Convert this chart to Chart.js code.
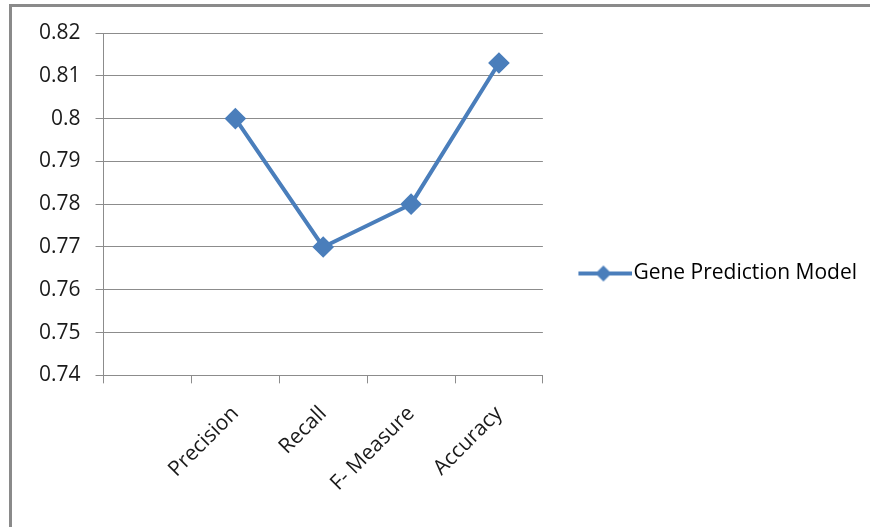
<!DOCTYPE html>
<html>
<head>
<meta charset="utf-8">
<script src="https://cdn.jsdelivr.net/npm/chart.js@4.4.0/dist/chart.umd.min.js"></script>
<style>
  body { margin: 0; background: #fff; }
  #wrap { position: relative; width: 870px; height: 527px; overflow: hidden; }
  #frame { position: absolute; left: 9px; top: 4px; width: 900px; height: 560px;
           border-left: 3px solid #8a8a8a; border-top: 3px solid #8a8a8a; }
  canvas { position: absolute; left: 0; top: 0; }
</style>
</head>
<body>
<div id="wrap">
  <div id="frame"></div>
  <canvas id="chart" width="870" height="527"></canvas>
</div>
<script>
// first slot on the axis is empty in the source chart
const categories = ['', 'Precision', 'Recall', 'F- Measure', 'Accuracy'];
const modelScores = [null, 0.80, 0.77, 0.78, 0.813];
const seriesName = 'Gene Prediction Model';
const yMin = 0.74, yMax = 0.82, yStep = 0.01;

const blue = '#4a7ebb';
const grey = '#8c8c8c';
const textColor = '#1a1a1a';
const font = { family: '"Open Sans", sans-serif', size: 21 };

// legend symbol: line with a diamond, like the office legend
function legendSymbol() {
  const c = document.createElement('canvas');
  c.width = 89; c.height = 20;
  const g = c.getContext('2d');
  g.strokeStyle = blue;
  g.lineWidth = 4;
  g.beginPath();
  g.moveTo(35, 10);
  g.lineTo(89, 10);
  g.stroke();
  g.fillStyle = blue;
  g.beginPath();
  g.moveTo(60, 2); g.lineTo(68, 10); g.lineTo(60, 18); g.lineTo(52, 10);
  g.closePath();
  g.fill();
  return c;
}
const symbol = legendSymbol();

new Chart(document.getElementById('chart'), {
  type: 'line',
  data: {
    labels: categories,
    datasets: [{
      label: seriesName,
      data: modelScores,
      borderColor: blue,
      backgroundColor: blue,
      borderWidth: 4,
      pointStyle: 'rectRot',
      pointRadius: 8,
      pointHoverRadius: 8,
      tension: 0
    }]
  },
  options: {
    responsive: false,
    animation: false,
    layout: { padding: { left: 24, top: 33, right: 3, bottom: 13 } },
    plugins: {
      tooltip: { enabled: false },
      legend: {
        position: 'right',
        maxWidth: 340,
        labels: {
          color: textColor,
          font: font,
          usePointStyle: true,
          pointStyleWidth: 70,
          padding: 10,
          generateLabels: (chart) => [{
            text: seriesName,
            pointStyle: symbol,
            fillStyle: blue,
            strokeStyle: blue,
            lineWidth: 0,
            datasetIndex: 0
          }]
        }
      }
    },
    scales: {
      x: {
        offset: true,
        grid: {
          offset: true,
          drawOnChartArea: false,
          drawTicks: true,
          tickLength: 8,
          color: grey
        },
        border: { color: grey, width: 1 },
        ticks: {
          color: textColor,
          font: font,
          autoSkip: false,
          minRotation: 45,
          maxRotation: 45,
          padding: 18
        }
      },
      y: {
        min: yMin,
        max: yMax,
        grid: { color: grey, tickLength: 8 },
        border: { color: grey, width: 1 },
        ticks: {
          stepSize: yStep,
          color: textColor,
          font: font,
          padding: 15,
          callback: (v) => String(Math.round(v * 100) / 100)
        }
      }
    }
  }
});
</script>
</body>
</html>
